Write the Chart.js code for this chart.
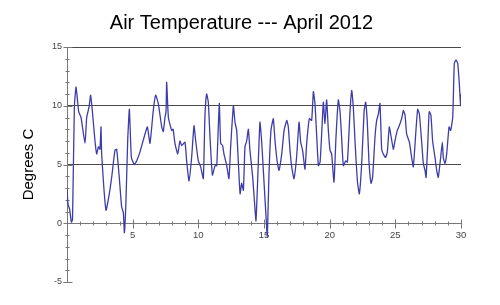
<!DOCTYPE html>
<html>
<head>
<meta charset="utf-8">
<script src="https://cdn.jsdelivr.net/npm/chart.js@4.4.0/dist/chart.umd.min.js"></script>
<style>
  html, body { margin: 0; padding: 0; background: #fff; }
</style>
</head>
<body>
<canvas id="c" width="500" height="305"></canvas>
<script>
'use strict';
// day of April (fractional) and air temperature
var days = [
  0.0, 0.08, 0.2, 0.33, 0.42, 0.56, 0.69, 0.89, 1.07, 1.37, 1.5, 1.68, 1.8, 1.95,
  2.13, 2.26, 2.39, 2.51, 2.59, 2.64, 2.97, 3.22, 3.4, 3.65, 3.78, 3.98, 4.16, 4.29,
  4.37, 4.49, 4.62, 4.75, 4.9, 5.13, 5.3, 5.51, 5.94, 6.12, 6.32, 6.57, 6.75, 6.95,
  7.21, 7.33, 7.46, 7.54, 7.59, 7.72, 7.97, 8.08, 8.22, 8.43, 8.6, 8.73, 8.98, 9.11,
  9.29, 9.49, 9.67, 9.8, 10.0, 10.18, 10.38, 10.5, 10.63, 10.76, 10.89, 11.07, 11.27,
  11.4, 11.52, 11.6, 11.7, 11.85, 11.95, 12.16, 12.33, 12.46, 12.67, 12.79, 12.92,
  13.05, 13.18, 13.3, 13.43, 13.55, 13.68, 13.81, 13.93, 14.14, 14.32, 14.39, 14.49,
  14.69, 14.82, 14.95, 15.15, 15.25, 15.38, 15.53, 15.71, 15.84, 16.0, 16.14, 16.35,
  16.53, 16.73, 16.85, 16.98, 17.11, 17.28, 17.48, 17.67, 17.79, 17.94, 18.12, 18.25,
  18.45, 18.63, 18.76, 18.88, 19.01, 19.14, 19.27, 19.39, 19.52, 19.64, 19.77, 19.9,
  20.03, 20.15, 20.33, 20.48, 20.66, 20.79, 20.91, 21.04, 21.22, 21.35, 21.55, 21.68,
  21.8, 21.93, 22.11, 22.26, 22.44, 22.62, 22.74, 22.87, 22.99, 23.15, 23.27, 23.45,
  23.58, 23.71, 23.83, 23.96, 24.08, 24.26, 24.39, 24.54, 24.69, 24.85, 24.97, 25.15,
  25.3, 25.48, 25.61, 25.74, 25.86, 26.07, 26.24, 26.37, 26.57, 26.7, 26.83, 27.0,
  27.13, 27.26, 27.34, 27.46, 27.58, 27.71, 27.84, 28.02, 28.15, 28.27, 28.45, 28.58,
  28.65, 28.78, 28.91, 29.09, 29.21, 29.37, 29.49, 29.62, 29.75, 29.87, 29.97, 30.0
];
var temps = [
  2.9, 1.6, 1.2, 0.1, 0.3, 9.9, 11.6, 9.5, 9.0, 6.8, 9.0, 9.9, 10.9, 9.3,
  7.0, 5.9, 6.5, 6.3, 8.2, 5.9, 1.1, 2.5, 3.9, 6.2, 6.3, 3.9, 1.4, 0.9,
  -0.8, 1.9, 7.0, 9.7, 5.6, 5.0, 5.3, 5.9, 7.6, 8.2, 6.8, 9.6, 10.9, 10.2,
  8.2, 7.8, 9.0, 9.5, 12.0, 9.0, 7.9, 8.0, 6.8, 5.9, 7.0, 6.6, 6.9, 5.3,
  3.6, 5.6, 8.3, 7.0, 5.3, 4.8, 3.8, 9.0, 11.0, 10.3, 7.3, 4.1, 4.9,
  4.9, 8.2, 10.2, 6.8, 6.6, 5.9, 4.9, 3.8, 6.5, 10.0, 8.6, 7.9,
  5.1, 2.5, 3.4, 2.8, 6.5, 7.0, 8.0, 6.2, 3.9, 1.1, 0.2, 2.8,
  8.6, 7.0, 4.5, 0.65, -1.1, 4.2, 7.9, 8.9, 7.0, 5.3, 4.5, 5.9,
  7.9, 8.75, 8.2, 6.2, 4.8, 3.8, 5.6, 8.6, 6.9, 6.2, 4.6, 6.8,
  8.9, 8.75, 11.2, 10.2, 7.5, 4.9, 5.2, 7.6, 10.3, 8.5, 10.5, 7.9,
  6.2, 5.9, 3.5, 7.3, 10.5, 9.5, 7.3, 4.9, 5.3, 5.2, 9.5, 11.3,
  9.9, 7.0, 3.6, 2.5, 5.1, 9.5, 10.3, 8.5, 5.3, 3.4, 3.9, 7.3,
  8.75, 9.3, 10.2, 6.3, 5.9, 5.6, 6.05, 8.2, 7.3, 6.3, 7.0, 7.9,
  8.3, 8.9, 9.6, 9.2, 7.6, 6.9, 5.6, 4.8, 7.9, 9.7, 9.3, 7.0,
  5.1, 4.5, 3.9, 6.5, 9.5, 9.2, 7.0, 5.6, 4.5, 3.9, 5.6, 6.9,
  5.6, 5.1, 5.9, 8.2, 7.9, 9.0, 13.6, 13.9, 13.6, 11.9, 10.0, 11.0
];
var xTickLabels = [5, 10, 15, 20, 25, 30];
var yTickLabels = [-5, 0, 5, 10, 15];
var gridValues = [5, 10, 15];

var FONT = '"Liberation Sans", Arial, sans-serif';

// small cross ticks on both axes, every day / every degree
var axisTicks = {
    id: 'axisTicks',
    beforeDatasetsDraw: function (chart) {
        var sx = chart.scales.x, sy = chart.scales.y, ctx = chart.ctx;
        var x0 = Math.round(sx.left) + 0.5;
        var y0 = Math.round(sy.getPixelForValue(0)) + 0.5;
        ctx.save();
        ctx.strokeStyle = '#777';
        ctx.lineWidth = 1;
        ctx.beginPath();
        for (var d = 1; d <= 30; d++) {
            var px = Math.round(sx.getPixelForValue(d)) + 0.5;
            var big = d % 5 === 0;
            ctx.moveTo(px, y0 - (big ? 4 : 2));
            ctx.lineTo(px, y0 + (big ? 5 : 2));
        }
        for (var v = -5; v <= 15; v++) {
            var py = Math.round(sy.getPixelForValue(v)) + 0.5;
            var major = v % 5 === 0;
            ctx.moveTo(x0 - (major ? 4 : 2), py);
            ctx.lineTo(x0 + (major ? 5 : 2), py);
        }
        ctx.stroke();
        ctx.restore();
    }
};

new Chart(document.getElementById('c'), {
    type: 'scatter',
    data: {
        datasets: [{
            data: days.map(function (d, i) { return { x: d, y: temps[i] }; }),
            showLine: true,
            borderColor: '#3d3daa',
            borderWidth: 1.3,
            pointRadius: 0,
            tension: 0.15
        }]
    },
    options: {
        responsive: false,
        animation: false,
        layout: { padding: { left: 0, right: 17, top: 0, bottom: 23 } },
        plugins: {
            legend: { display: false },
            tooltip: { enabled: false },
            title: {
                display: true,
                text: 'Air Temperature --- April 2012',
                color: '#000',
                font: { family: FONT, size: 20, weight: 'normal' },
                padding: { top: 11, bottom: 12 }
            }
        },
        scales: {
            x: {
                type: 'linear',
                min: 0,
                max: 30,
                position: { y: 0 },
                afterBuildTicks: function (s) {
                    s.ticks = xTickLabels.map(function (v) { return { value: v }; });
                },
                ticks: {
                    color: '#444',
                    font: { family: FONT, size: 9.5 },
                    padding: 6,
                    maxRotation: 0
                },
                grid: { display: false, drawTicks: false },
                border: { display: true, color: '#777', width: 1 }
            },
            y: {
                position: 'left',
                min: -5,
                max: 15,
                afterBuildTicks: function (s) {
                    s.ticks = yTickLabels.map(function (v) { return { value: v }; });
                },
                afterFit: function (s) { s.width = 67; },
                ticks: {
                    color: '#444',
                    font: { family: FONT, size: 9 },
                    padding: 5
                },
                grid: {
                    drawTicks: false,
                    color: function (ctx) {
                        return ctx.tick && gridValues.indexOf(ctx.tick.value) >= 0 ? '#4a4a4a' : 'rgba(0,0,0,0)';
                    }
                },
                border: { display: true, color: '#777', width: 1 },
                title: {
                    display: true,
                    text: 'Degrees C',
                    color: '#000',
                    font: { family: FONT, size: 15 },
                    padding: { top: 20, bottom: 0 }
                }
            },
            yR: {
                position: 'right',
                ticks: { display: false },
                grid: { display: false, drawTicks: false },
                border: { display: false },
                afterFit: function (s) { s.width = 22; }
            }
        }
    },
    plugins: [axisTicks]
});
</script>
</body>
</html>
